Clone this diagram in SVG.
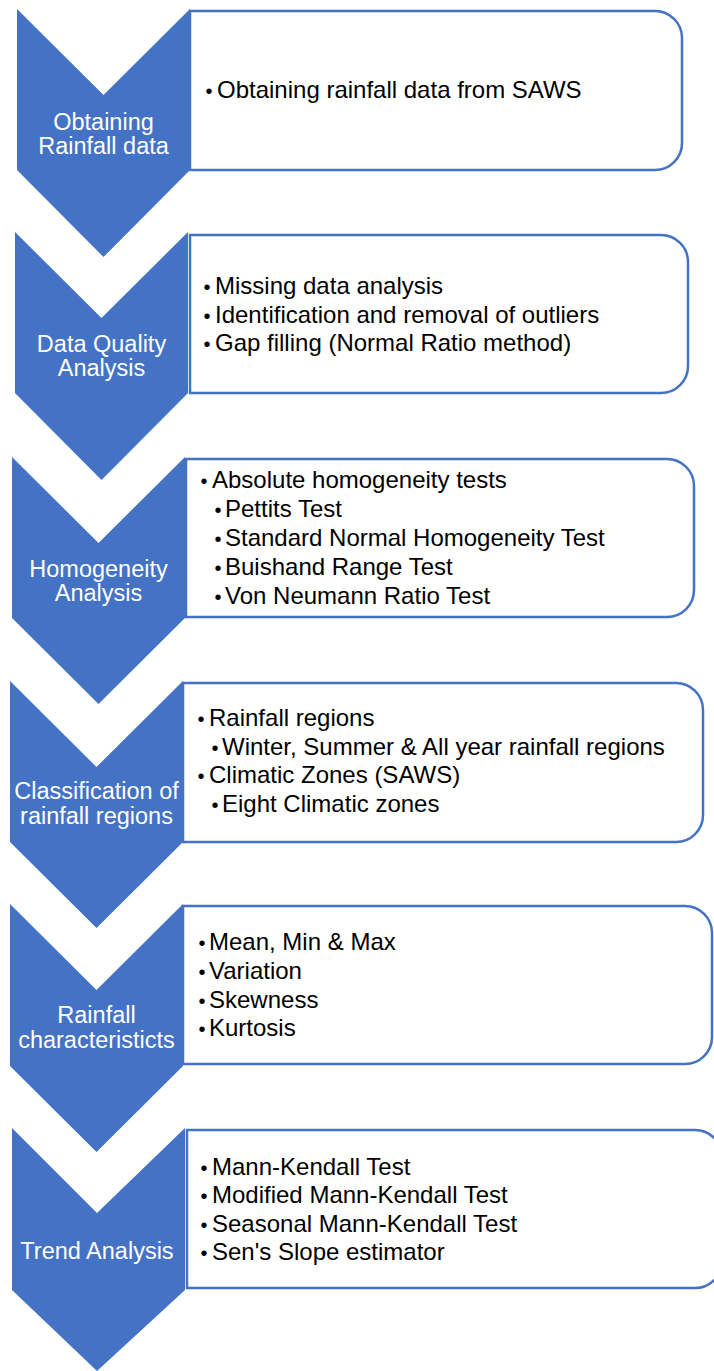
<svg xmlns="http://www.w3.org/2000/svg" width="714" height="1371" viewBox="0 0 714 1371">
<style>
.box{fill:#fff;stroke:#4472C4;stroke-width:2.5}
.chev{fill:#4472C4}
.lbl{font-family:"Liberation Sans",Arial,sans-serif;font-size:23.5px;fill:#fff;text-anchor:middle}
.txt{font-family:"Liberation Sans",Arial,sans-serif;font-size:24px;fill:#000}
.b{text-anchor:middle;font-size:20px}
</style>
<rect width="714" height="1371" fill="#fff"/>
<g id="stage1">
<path class="box" d="M190,11 H655 A27,27 0 0 1 682,38 V143 A27,27 0 0 1 655,170 H190 Z"/>
<polygon class="chev" points="17,9 103.5,95 190,9 190,170 103.5,257 17,170"/>
<text class="lbl" x="103.5" y="130">Obtaining</text>
<text class="lbl" x="103.5" y="154">Rainfall data</text>
<text class="txt" y="98"><tspan class="b" x="209">•</tspan><tspan x="217">Obtaining rainfall data from SAWS</tspan></text>
</g>
<g id="stage2">
<path class="box" d="M190,235 H661 A27,27 0 0 1 688,262 V366 A27,27 0 0 1 661,393 H190 Z"/>
<polygon class="chev" points="15,232 101.5,318 188,232 188,393 101.5,480 15,393"/>
<text class="lbl" x="101.5" y="352">Data Quality</text>
<text class="lbl" x="101.5" y="376">Analysis</text>
<text class="txt" y="294"><tspan class="b" x="207">•</tspan><tspan x="215">Missing data analysis</tspan></text>
<text class="txt" y="322.5"><tspan class="b" x="207">•</tspan><tspan x="215">Identification and removal of outliers</tspan></text>
<text class="txt" y="351"><tspan class="b" x="207">•</tspan><tspan x="215">Gap filling (Normal Ratio method)</tspan></text>
</g>
<g id="stage3">
<path class="box" d="M186,459 H667 A27,27 0 0 1 694,486 V590 A27,27 0 0 1 667,617 H186 Z"/>
<polygon class="chev" points="12,457 98.5,543 185,457 185,618 98.5,704 12,618"/>
<text class="lbl" x="98.5" y="577">Homogeneity</text>
<text class="lbl" x="98.5" y="601">Analysis</text>
<text class="txt" y="488"><tspan class="b" x="204">•</tspan><tspan x="212">Absolute homogeneity tests</tspan></text>
<text class="txt" y="517"><tspan class="b" x="218">•</tspan><tspan x="225">Pettits Test</tspan></text>
<text class="txt" y="546"><tspan class="b" x="218">•</tspan><tspan x="225">Standard Normal Homogeneity Test</tspan></text>
<text class="txt" y="575"><tspan class="b" x="218">•</tspan><tspan x="225">Buishand Range Test</tspan></text>
<text class="txt" y="604"><tspan class="b" x="218">•</tspan><tspan x="225">Von Neumann Ratio Test</tspan></text>
</g>
<g id="stage4">
<path class="box" d="M183,683 H676 A27,27 0 0 1 703,710 V815 A27,27 0 0 1 676,842 H183 Z"/>
<polygon class="chev" points="10,681 96.5,767 183,681 183,842 96.5,928 10,842"/>
<text class="lbl" x="96.5" y="799">Classification of</text>
<text class="lbl" x="96.5" y="824">rainfall regions</text>
<text class="txt" y="726"><tspan class="b" x="201">•</tspan><tspan x="209">Rainfall regions</tspan></text>
<text class="txt" y="755"><tspan class="b" x="215">•</tspan><tspan x="222">Winter, Summer &amp; All year rainfall regions</tspan></text>
<text class="txt" y="783"><tspan class="b" x="201">•</tspan><tspan x="209">Climatic Zones (SAWS)</tspan></text>
<text class="txt" y="812"><tspan class="b" x="215">•</tspan><tspan x="222">Eight Climatic zones</tspan></text>
</g>
<g id="stage5">
<path class="box" d="M183,906 H685 A27,27 0 0 1 712,933 V1037 A27,27 0 0 1 685,1064 H183 Z"/>
<polygon class="chev" points="10,904 96.5,990 183,904 183,1066 96.5,1152 10,1066"/>
<text class="lbl" x="96.5" y="1023">Rainfall</text>
<text class="lbl" x="96.5" y="1048">characteristicts</text>
<text class="txt" y="950"><tspan class="b" x="202">•</tspan><tspan x="209">Mean, Min &amp; Max</tspan></text>
<text class="txt" y="979"><tspan class="b" x="202">•</tspan><tspan x="209">Variation</tspan></text>
<text class="txt" y="1007.5"><tspan class="b" x="202">•</tspan><tspan x="209">Skewness</tspan></text>
<text class="txt" y="1036"><tspan class="b" x="202">•</tspan><tspan x="209">Kurtosis</tspan></text>
</g>
<g id="stage6">
<path class="box" d="M187,1130 H695 A27,27 0 0 1 722,1157 V1261 A27,27 0 0 1 695,1288 H187 Z"/>
<polygon class="chev" points="12,1128 97,1213 185,1128 185,1290 97,1371 12,1290"/>
<text class="lbl" x="97" y="1259">Trend Analysis</text>
<text class="txt" y="1175"><tspan class="b" x="204">•</tspan><tspan x="212">Mann-Kendall Test</tspan></text>
<text class="txt" y="1203"><tspan class="b" x="204">•</tspan><tspan x="212">Modified Mann-Kendall Test</tspan></text>
<text class="txt" y="1232"><tspan class="b" x="204">•</tspan><tspan x="212">Seasonal Mann-Kendall Test</tspan></text>
<text class="txt" y="1260"><tspan class="b" x="204">•</tspan><tspan x="212">Sen's Slope estimator</tspan></text>
</g>
<g id="connectors"/>
</svg>
